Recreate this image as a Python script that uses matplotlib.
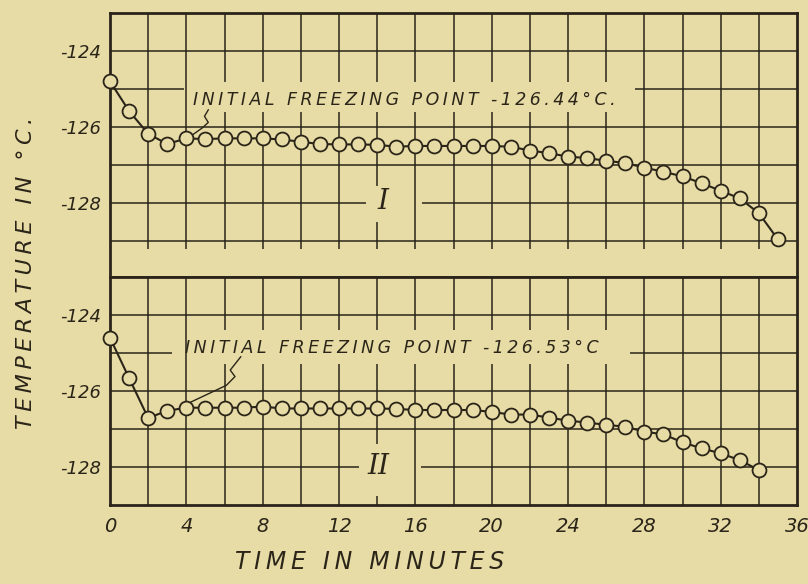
import numpy as np
import matplotlib
matplotlib.use("Agg")
import matplotlib.pyplot as plt

# Curve I
minutes_1 = list(range(0, 36))
temp_1 = [-124.80, -125.58, -126.18, -126.45, -126.30, -126.32, -126.30, -126.30,
          -126.30, -126.33, -126.39, -126.45, -126.46, -126.46, -126.47, -126.52,
          -126.50, -126.50, -126.50, -126.50, -126.50, -126.52, -126.62, -126.69,
          -126.78, -126.82, -126.89, -126.95, -127.07, -127.18, -127.30, -127.48,
          -127.68, -127.88, -128.27, -128.96]

# Curve II
minutes_2 = list(range(0, 35))
temp_2 = [-124.60, -125.66, -126.71, -126.52, -126.44, -126.44, -126.44, -126.44,
          -126.41, -126.46, -126.46, -126.46, -126.46, -126.46, -126.46, -126.47,
          -126.50, -126.50, -126.50, -126.50, -126.55, -126.62, -126.62, -126.70,
          -126.78, -126.83, -126.89, -126.94, -127.07, -127.14, -127.35, -127.51,
          -127.64, -127.82, -128.08]

x_ticks = [0, 4, 8, 12, 16, 20, 24, 28, 32, 36]
y_ticks = [-124, -126, -128]
y_tick_labels = ["-124", "-126", "-128"]
labels = ["INITIAL FREEZING POINT -126.44°C.", "INITIAL FREEZING POINT -126.53°C"]
numerals = ["I", "II"]

PAPER = "#e7dca6"
INK = "#2b2519"

plt.rcParams["font.family"] = ["DejaVu Sans"]


def spaced(s):
    # hand lettering is wide, pad letters with thin spaces
    return "\u2009".join(s)


fig = plt.figure(figsize=(8.08, 5.84), dpi=100)
fig.patch.set_facecolor(PAPER)

W, H = 808.0, 584.0
x0, x1 = 110, 797
ax1 = fig.add_axes([x0 / W, 1 - 277 / H, (x1 - x0) / W, (277 - 13) / H])
ax2 = fig.add_axes([x0 / W, 1 - 505 / H, (x1 - x0) / W, (505 - 277) / H])

grid_kw = dict(color=INK, lw=1.1, zorder=1, solid_capstyle="butt")


def hseg(ax, y, spans):
    for a, b in spans:
        ax.plot([a, b], [y, y], **grid_kw)


def vseg(ax, x, spans):
    for a, b in spans:
        ax.plot([x, x], [a, b], **grid_kw)


for ax in (ax1, ax2):
    ax.set_facecolor(PAPER)
    ax.set_xlim(0, 36)
    for s in ax.spines.values():
        s.set_color(INK)
        s.set_linewidth(2.0)
    ax.set_yticks(y_ticks)
    ax.set_yticklabels(y_tick_labels, fontsize=13, style="italic", color=INK)
    ax.tick_params(length=0, pad=6)

ax1.set_ylim(-129.95, -123)
ax2.set_ylim(-129, -123)
ax1.set_xticks([])
ax2.set_xticks(x_ticks)
ax2.set_xticklabels([str(v) for v in x_ticks], fontsize=14, style="italic", color=INK)
ax2.tick_params(axis="x", pad=9)

# grid, panel I (hand ruled, broken round the writing)
for y in (-124, -126, -127, -129):
    hseg(ax1, y, [(0, 36)])
hseg(ax1, -125, [(0, 3.9), (27.5, 36)])
hseg(ax1, -128, [(0, 13.4), (16.35, 36)])
for x in range(2, 36, 2):
    if 6 <= x <= 26 and x != 14:
        vseg(ax1, x, [(-129.2, -125.6), (-124.82, -123)])
    elif x == 14:
        vseg(ax1, x, [(-129.2, -128.5), (-127.55, -125.6), (-124.82, -123)])
    else:
        vseg(ax1, x, [(-129.2, -123)])

# grid, panel II
for y in (-124, -126, -127):
    hseg(ax2, y, [(0, 36)])
hseg(ax2, -125, [(0, 3.25), (27.25, 36)])
hseg(ax2, -128, [(0, 13.05), (16.3, 36)])
for x in range(2, 36, 2):
    if 6 <= x <= 26 and x != 14:
        vseg(ax2, x, [(-129, -125.3), (-124.4, -123)])
    elif x == 14:
        vseg(ax2, x, [(-129, -128.75), (-127.4, -125.3), (-124.4, -123)])
    else:
        vseg(ax2, x, [(-129, -123)])

mk = dict(color=INK, lw=1.5, marker="o", markersize=10, markerfacecolor=PAPER,
          markeredgecolor=INK, markeredgewidth=1.3, zorder=3, clip_on=False)
ax1.plot(minutes_1, temp_1, **mk)
ax2.plot(minutes_2, temp_2, **mk)

txt = dict(fontsize=12.5, style="italic", color=INK, va="center", ha="left", zorder=2)
ax1.text(4.35, -125.28, spaced(labels[0]), **txt)
ax2.text(3.95, -124.87, spaced(labels[1]), **txt)

# leaders
ax1.plot([5.15, 4.95, 5.15, 4.85, 4.15], [-125.55, -125.72, -125.88, -126.02, -126.27],
         color=INK, lw=1.0, zorder=2)
ax2.plot([6.85, 6.3, 6.55, 6.1, 4.2], [-125.1, -125.45, -125.62, -125.85, -126.3],
         color=INK, lw=1.0, zorder=2)

num = dict(fontsize=20, style="italic", color=INK, ha="center", va="center", zorder=2)
ax1.text(14.3, -127.95, numerals[0], family="DejaVu Serif", **num)
ax2.text(14.05, -128.0, numerals[1], family="DejaVu Serif", **num)

fig.text(26 / W, 1 - 273 / H, spaced("TEMPERATURE IN °C."), rotation=90, fontsize=16,
         style="italic", color=INK, ha="center", va="center")
fig.text(370 / W, 1 - 562 / H, spaced("TIME IN MINUTES"), fontsize=17,
         style="italic", color=INK, ha="center", va="center")

fig.savefig("out.png", dpi=100, facecolor=PAPER)
